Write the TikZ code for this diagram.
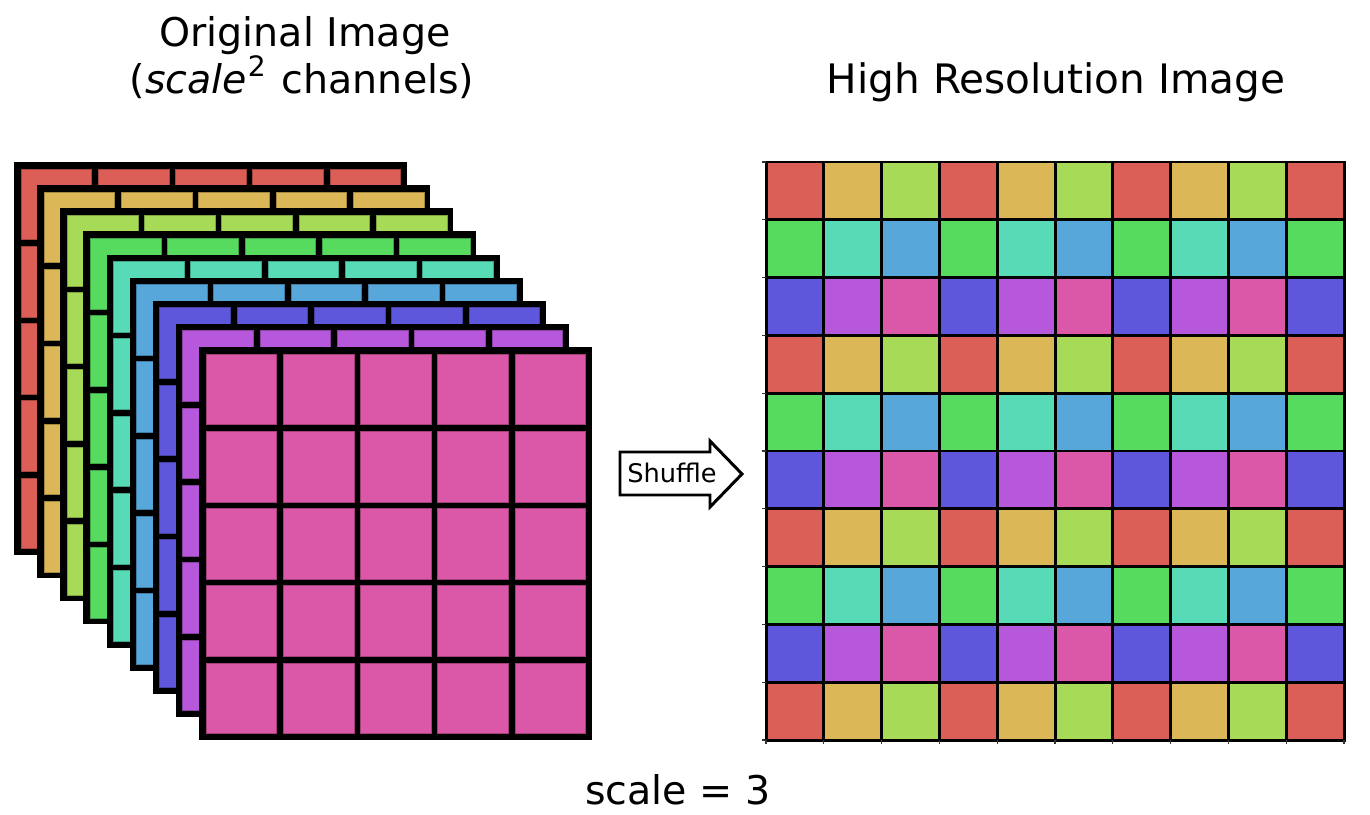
\documentclass[tikz,border=0pt]{standalone}
\usepackage{fontspec}
\setmainfont{DejaVu Sans}
\usepackage{tikz}
\usetikzlibrary{positioning}
\definecolor{ch0}{HTML}{DB5F57}
\definecolor{ch1}{HTML}{DBB757}
\definecolor{ch2}{HTML}{A7DB57}
\definecolor{ch3}{HTML}{57DB5F}
\definecolor{ch4}{HTML}{57DBB7}
\definecolor{ch5}{HTML}{57A7DB}
\definecolor{ch6}{HTML}{5F57DB}
\definecolor{ch7}{HTML}{B757DB}
\definecolor{ch8}{HTML}{DB57A7}
\definecolor{ink}{HTML}{000000}
\definecolor{tick}{HTML}{333333}

\tikzset{
  title/.style={anchor=base, text=ink, inner sep=0pt,
    font=\fontsize{22.5}{27}\selectfont},
  lowcell/.style={line width=0.5pt},
  hicell/.style={draw=ink, line width=1.7pt},
  shufflebox/.style={draw=ink, fill=white, line width=1.7pt, line join=miter}
}

\begin{document}
\begin{tikzpicture}[x=0.02cm, y=-0.02cm]
    % stacked channels, back (ch0) to front (ch8)
    \foreach \k in {0,...,8}
      {\pgfmathsetmacro{\lx}{14+\k*23.125}
       \pgfmathsetmacro{\ly}{162+\k*23.125}
       \fill[ink] (\lx,\ly) rectangle ++(393,393);
       \foreach \r in {0,...,4}
         \foreach \c in {0,...,4}
           {\filldraw[lowcell, fill=ch\k, draw=ch\k!75!black]
              ({\lx+7+\c*77.3},{\ly+7+\r*77.3}) rectangle ++(70.7,70.7);}}

    % high resolution grid, 10 x 10
    \foreach \r in {0,...,9}
      \foreach \c in {0,...,9}
        {\pgfmathtruncatemacro{\idx}{3*mod(\r,3)+mod(\c,3)}
         \filldraw[hicell, fill=ch\idx]
           ({766+\c*57.8},{162+\r*57.8}) rectangle ++(57.8,57.8);}

    % axis ticks, no labels
    \foreach \t in {0,...,10}
      {\draw[tick, line width=0.6pt] (762,{162+\t*57.8}) -- (766,{162+\t*57.8});
       \draw[tick, line width=0.6pt] ({766+\t*57.8},740) -- ({766+\t*57.8},744);}

    % shuffle arrow
    \draw[shufflebox] (620,452) -- (710,452) -- (710,441) -- (742,474)
      -- (710,507) -- (710,495) -- (620,495) -- cycle;
    \node[text=ink, font=\fontsize{14.6}{17}\selectfont, inner sep=0pt]
      (shuffle) at (672,473) {Shuffle};

    \node[title] (origtitle) at (305,46) {Original Image};
    \node[title] (chantitle) at (302,93)
      {(\textit{scale}\kern0.5pt\raisebox{0.42em}{\fontsize{16}{18}\selectfont 2}\kern2pt{} channels)};
    \node[title, font=\fontsize{23.1}{27}\selectfont] (hrtitle) at (1056,93)
      {High Resolution Image};
    \node[title] (scalenote) at (678,804) {scale = 3};

    \useasboundingbox (0,0) rectangle (1370,815);
  \end{tikzpicture}
\end{document}
